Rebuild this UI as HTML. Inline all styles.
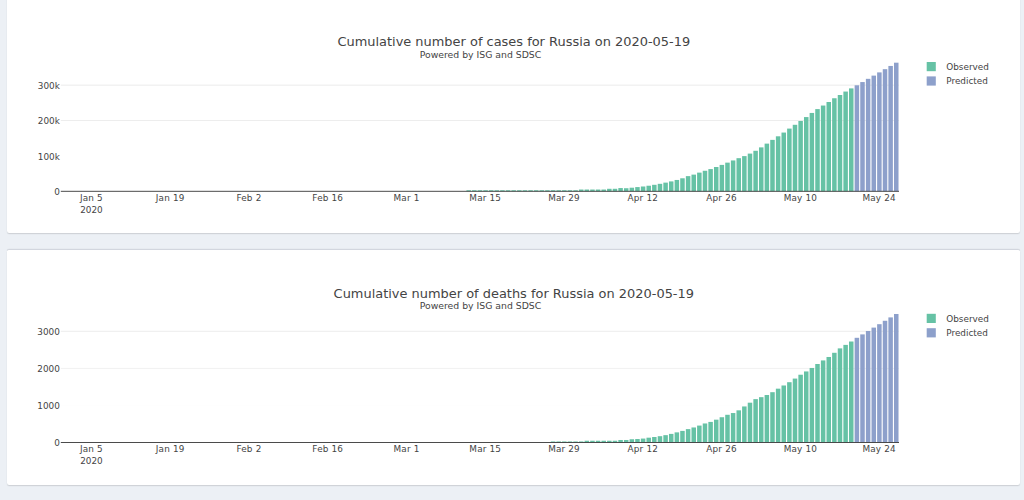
<!DOCTYPE html>
<html lang="en">
<head>
<meta charset="utf-8">
<title>Cumulative cases and deaths for Russia</title>
<style>
html,body{margin:0;padding:0;}
body{width:1024px;height:500px;overflow:hidden;background:#ecf0f5;position:relative;font-family:"DejaVu Sans", "Liberation Sans", sans-serif;}
.card{position:absolute;box-sizing:border-box;left:7.4px;width:1012.6px;height:236.1px;background:#fff;border-radius:2.2px;border-top:1.7px solid #d2d6de;box-shadow:0 0.8px 1.2px rgba(0,0,0,0.14);}
#c1{top:-3.3px;}
#c2{top:248.9px;}
svg{position:absolute;left:0;top:0;}
text{font-family:"DejaVu Sans", "Liberation Sans", sans-serif;fill:#444;}
.tk{font-size:8.85px;}
.xl{letter-spacing:0.17px;}
.tt{font-size:12.95px;}
.st{font-size:9.3px;}
</style>
</head>
<body>
<div class="card" id="c1"></div>
<div class="card" id="c2"></div>
<svg width="1024" height="500" viewBox="0 0 1024 500">
<g id="chart-cases">
<rect x="60.8" y="155.53" width="838.2" height="0.74" fill="#fefefe"/>
<rect x="60.8" y="120.13" width="838.2" height="0.74" fill="#e7e7e7"/>
<rect x="60.8" y="84.73" width="838.2" height="0.74" fill="#e3e3e3"/>
<rect x="466.44" y="190.26" width="4.5" height="1.04" fill="#66c2a5"/>
<rect x="472.06" y="190.26" width="4.5" height="1.04" fill="#66c2a5"/>
<rect x="477.69" y="190.26" width="4.5" height="1.04" fill="#66c2a5"/>
<rect x="483.31" y="190.26" width="4.5" height="1.04" fill="#66c2a5"/>
<rect x="488.94" y="190.26" width="4.5" height="1.04" fill="#66c2a5"/>
<rect x="494.57" y="190.26" width="4.5" height="1.04" fill="#66c2a5"/>
<rect x="500.19" y="190.26" width="4.5" height="1.04" fill="#66c2a5"/>
<rect x="505.82" y="190.26" width="4.5" height="1.04" fill="#66c2a5"/>
<rect x="511.44" y="190.26" width="4.5" height="1.04" fill="#66c2a5"/>
<rect x="517.07" y="190.26" width="4.5" height="1.04" fill="#66c2a5"/>
<rect x="522.70" y="190.26" width="4.5" height="1.04" fill="#66c2a5"/>
<rect x="528.32" y="190.26" width="4.5" height="1.04" fill="#66c2a5"/>
<rect x="533.95" y="190.26" width="4.5" height="1.04" fill="#66c2a5"/>
<rect x="539.57" y="190.26" width="4.5" height="1.04" fill="#66c2a5"/>
<rect x="545.20" y="190.26" width="4.5" height="1.04" fill="#66c2a5"/>
<rect x="550.83" y="190.26" width="4.5" height="1.04" fill="#66c2a5"/>
<rect x="556.45" y="190.26" width="4.5" height="1.04" fill="#66c2a5"/>
<rect x="562.08" y="190.26" width="4.5" height="1.04" fill="#66c2a5"/>
<rect x="567.70" y="190.26" width="4.5" height="1.04" fill="#66c2a5"/>
<rect x="573.33" y="190.26" width="4.5" height="1.04" fill="#66c2a5"/>
<rect x="578.96" y="189.53" width="4.5" height="1.77" fill="#66c2a5"/>
<rect x="584.58" y="189.53" width="4.5" height="1.77" fill="#66c2a5"/>
<rect x="590.21" y="189.53" width="4.5" height="1.77" fill="#66c2a5"/>
<rect x="595.83" y="189.53" width="4.5" height="1.77" fill="#66c2a5"/>
<rect x="601.46" y="189.53" width="4.5" height="1.77" fill="#66c2a5"/>
<rect x="607.09" y="188.79" width="4.5" height="2.51" fill="#66c2a5"/>
<rect x="612.71" y="188.79" width="4.5" height="2.51" fill="#66c2a5"/>
<rect x="618.34" y="188.05" width="4.5" height="3.25" fill="#66c2a5"/>
<rect x="623.96" y="188.23" width="4.5" height="3.07" fill="#66c2a5"/>
<rect x="629.59" y="187.71" width="4.5" height="3.59" fill="#66c2a5"/>
<rect x="635.22" y="187.08" width="4.5" height="4.22" fill="#66c2a5"/>
<rect x="640.84" y="186.49" width="4.5" height="4.81" fill="#66c2a5"/>
<rect x="646.47" y="185.72" width="4.5" height="5.58" fill="#66c2a5"/>
<rect x="652.09" y="184.81" width="4.5" height="6.49" fill="#66c2a5"/>
<rect x="657.72" y="183.83" width="4.5" height="7.47" fill="#66c2a5"/>
<rect x="663.35" y="182.63" width="4.5" height="8.67" fill="#66c2a5"/>
<rect x="668.97" y="181.41" width="4.5" height="9.89" fill="#66c2a5"/>
<rect x="674.60" y="179.97" width="4.5" height="11.33" fill="#66c2a5"/>
<rect x="680.22" y="178.28" width="4.5" height="13.02" fill="#66c2a5"/>
<rect x="685.85" y="176.13" width="4.5" height="15.17" fill="#66c2a5"/>
<rect x="691.48" y="174.62" width="4.5" height="16.68" fill="#66c2a5"/>
<rect x="697.10" y="172.62" width="4.5" height="18.68" fill="#66c2a5"/>
<rect x="702.73" y="170.77" width="4.5" height="20.53" fill="#66c2a5"/>
<rect x="708.35" y="169.08" width="4.5" height="22.22" fill="#66c2a5"/>
<rect x="713.98" y="167.01" width="4.5" height="24.29" fill="#66c2a5"/>
<rect x="719.61" y="164.90" width="4.5" height="26.40" fill="#66c2a5"/>
<rect x="725.23" y="162.64" width="4.5" height="28.66" fill="#66c2a5"/>
<rect x="730.86" y="160.45" width="4.5" height="30.85" fill="#66c2a5"/>
<rect x="736.48" y="158.18" width="4.5" height="33.12" fill="#66c2a5"/>
<rect x="742.11" y="156.11" width="4.5" height="35.19" fill="#66c2a5"/>
<rect x="747.74" y="153.60" width="4.5" height="37.70" fill="#66c2a5"/>
<rect x="753.36" y="150.79" width="4.5" height="40.51" fill="#66c2a5"/>
<rect x="758.99" y="147.38" width="4.5" height="43.92" fill="#66c2a5"/>
<rect x="764.61" y="143.62" width="4.5" height="47.68" fill="#66c2a5"/>
<rect x="770.24" y="139.88" width="4.5" height="51.42" fill="#66c2a5"/>
<rect x="775.87" y="136.30" width="4.5" height="55.00" fill="#66c2a5"/>
<rect x="781.49" y="132.56" width="4.5" height="58.74" fill="#66c2a5"/>
<rect x="787.12" y="128.59" width="4.5" height="62.71" fill="#66c2a5"/>
<rect x="792.74" y="124.80" width="4.5" height="66.50" fill="#66c2a5"/>
<rect x="798.37" y="120.97" width="4.5" height="70.33" fill="#66c2a5"/>
<rect x="804.00" y="117.07" width="4.5" height="74.23" fill="#66c2a5"/>
<rect x="809.62" y="112.94" width="4.5" height="78.36" fill="#66c2a5"/>
<rect x="815.25" y="109.09" width="4.5" height="82.21" fill="#66c2a5"/>
<rect x="820.87" y="105.54" width="4.5" height="85.76" fill="#66c2a5"/>
<rect x="826.50" y="102.01" width="4.5" height="89.29" fill="#66c2a5"/>
<rect x="832.12" y="98.25" width="4.5" height="93.05" fill="#66c2a5"/>
<rect x="837.75" y="95.00" width="4.5" height="96.30" fill="#66c2a5"/>
<rect x="843.38" y="91.56" width="4.5" height="99.74" fill="#66c2a5"/>
<rect x="849.00" y="88.40" width="4.5" height="102.90" fill="#66c2a5"/>
<rect x="854.63" y="85.28" width="4.5" height="106.02" fill="#8da0cb"/>
<rect x="860.25" y="82.06" width="4.5" height="109.24" fill="#8da0cb"/>
<rect x="865.88" y="78.83" width="4.5" height="112.47" fill="#8da0cb"/>
<rect x="871.51" y="75.61" width="4.5" height="115.69" fill="#8da0cb"/>
<rect x="877.13" y="72.39" width="4.5" height="118.91" fill="#8da0cb"/>
<rect x="882.76" y="69.17" width="4.5" height="122.13" fill="#8da0cb"/>
<rect x="888.38" y="65.95" width="4.5" height="125.35" fill="#8da0cb"/>
<rect x="894.01" y="62.69" width="4.5" height="128.61" fill="#8da0cb"/>
<rect x="60.8" y="190.82" width="838.2" height="0.96" fill="#444444"/>
<text x="59.8" y="194.90" text-anchor="end" class="tk">0</text>
<text x="59.8" y="159.50" text-anchor="end" class="tk">100k</text>
<text x="59.8" y="124.10" text-anchor="end" class="tk">200k</text>
<text x="59.8" y="88.70" text-anchor="end" class="tk">300k</text>
<text x="91.44" y="201.10" text-anchor="middle" class="tk xl">Jan 5</text>
<text x="170.21" y="201.10" text-anchor="middle" class="tk xl">Jan 19</text>
<text x="248.97" y="201.10" text-anchor="middle" class="tk xl">Feb 2</text>
<text x="327.74" y="201.10" text-anchor="middle" class="tk xl">Feb 16</text>
<text x="406.50" y="201.10" text-anchor="middle" class="tk xl">Mar 1</text>
<text x="485.26" y="201.10" text-anchor="middle" class="tk xl">Mar 15</text>
<text x="564.03" y="201.10" text-anchor="middle" class="tk xl">Mar 29</text>
<text x="642.79" y="201.10" text-anchor="middle" class="tk xl">Apr 12</text>
<text x="721.56" y="201.10" text-anchor="middle" class="tk xl">Apr 26</text>
<text x="800.32" y="201.10" text-anchor="middle" class="tk xl">May 10</text>
<text x="879.08" y="201.10" text-anchor="middle" class="tk xl">May 24</text>
<text x="91.44" y="212.60" text-anchor="middle" class="tk">2020</text>
<text x="513.8" y="46.00" text-anchor="middle" class="tt">Cumulative number of cases for Russia on 2020-05-19</text>
<text x="480.5" y="57.60" text-anchor="middle" class="st">Powered by ISG and SDSC</text>
<rect x="926.7" y="62.00" width="9.1" height="9.2" fill="#66c2a5"/>
<rect x="926.7" y="76.40" width="9.1" height="9.2" fill="#8da0cb"/>
<text x="946.3" y="69.70" class="tk">Observed</text>
<text x="946.3" y="84.10" class="tk">Predicted</text>
</g>
<g id="chart-deaths">
<rect x="60.8" y="405.03" width="838.2" height="0.74" fill="#fefefe"/>
<rect x="60.8" y="367.93" width="838.2" height="0.74" fill="#ececec"/>
<rect x="60.8" y="330.83" width="838.2" height="0.74" fill="#e5e5e5"/>
<rect x="550.83" y="441.46" width="4.5" height="1.04" fill="#66c2a5"/>
<rect x="556.45" y="441.46" width="4.5" height="1.04" fill="#66c2a5"/>
<rect x="562.08" y="441.46" width="4.5" height="1.04" fill="#66c2a5"/>
<rect x="567.70" y="441.46" width="4.5" height="1.04" fill="#66c2a5"/>
<rect x="573.33" y="441.46" width="4.5" height="1.04" fill="#66c2a5"/>
<rect x="578.96" y="441.46" width="4.5" height="1.04" fill="#66c2a5"/>
<rect x="584.58" y="440.73" width="4.5" height="1.77" fill="#66c2a5"/>
<rect x="590.21" y="440.73" width="4.5" height="1.77" fill="#66c2a5"/>
<rect x="595.83" y="440.73" width="4.5" height="1.77" fill="#66c2a5"/>
<rect x="601.46" y="440.73" width="4.5" height="1.77" fill="#66c2a5"/>
<rect x="607.09" y="440.73" width="4.5" height="1.77" fill="#66c2a5"/>
<rect x="612.71" y="440.73" width="4.5" height="1.77" fill="#66c2a5"/>
<rect x="618.34" y="439.99" width="4.5" height="2.51" fill="#66c2a5"/>
<rect x="623.96" y="439.99" width="4.5" height="2.51" fill="#66c2a5"/>
<rect x="629.59" y="439.25" width="4.5" height="3.25" fill="#66c2a5"/>
<rect x="635.22" y="439.01" width="4.5" height="3.49" fill="#66c2a5"/>
<rect x="640.84" y="438.57" width="4.5" height="3.93" fill="#66c2a5"/>
<rect x="646.47" y="437.68" width="4.5" height="4.82" fill="#66c2a5"/>
<rect x="652.09" y="437.01" width="4.5" height="5.49" fill="#66c2a5"/>
<rect x="657.72" y="436.19" width="4.5" height="6.31" fill="#66c2a5"/>
<rect x="663.35" y="435.15" width="4.5" height="7.35" fill="#66c2a5"/>
<rect x="668.97" y="433.89" width="4.5" height="8.61" fill="#66c2a5"/>
<rect x="674.60" y="432.37" width="4.5" height="10.13" fill="#66c2a5"/>
<rect x="680.22" y="430.89" width="4.5" height="11.61" fill="#66c2a5"/>
<rect x="685.85" y="429.11" width="4.5" height="13.39" fill="#66c2a5"/>
<rect x="691.48" y="427.47" width="4.5" height="15.03" fill="#66c2a5"/>
<rect x="697.10" y="425.58" width="4.5" height="16.92" fill="#66c2a5"/>
<rect x="702.73" y="423.47" width="4.5" height="19.03" fill="#66c2a5"/>
<rect x="708.35" y="421.91" width="4.5" height="20.59" fill="#66c2a5"/>
<rect x="713.98" y="419.68" width="4.5" height="22.82" fill="#66c2a5"/>
<rect x="719.61" y="417.23" width="4.5" height="25.27" fill="#66c2a5"/>
<rect x="725.23" y="414.79" width="4.5" height="27.71" fill="#66c2a5"/>
<rect x="730.86" y="413.04" width="4.5" height="29.46" fill="#66c2a5"/>
<rect x="736.48" y="410.33" width="4.5" height="32.17" fill="#66c2a5"/>
<rect x="742.11" y="406.44" width="4.5" height="36.06" fill="#66c2a5"/>
<rect x="747.74" y="402.69" width="4.5" height="39.81" fill="#66c2a5"/>
<rect x="753.36" y="399.13" width="4.5" height="43.37" fill="#66c2a5"/>
<rect x="758.99" y="397.16" width="4.5" height="45.34" fill="#66c2a5"/>
<rect x="764.61" y="395.01" width="4.5" height="47.49" fill="#66c2a5"/>
<rect x="770.24" y="392.19" width="4.5" height="50.31" fill="#66c2a5"/>
<rect x="775.87" y="388.67" width="4.5" height="53.83" fill="#66c2a5"/>
<rect x="781.49" y="385.48" width="4.5" height="57.02" fill="#66c2a5"/>
<rect x="787.12" y="382.21" width="4.5" height="60.29" fill="#66c2a5"/>
<rect x="792.74" y="378.58" width="4.5" height="63.92" fill="#66c2a5"/>
<rect x="798.37" y="374.72" width="4.5" height="67.78" fill="#66c2a5"/>
<rect x="804.00" y="371.45" width="4.5" height="71.05" fill="#66c2a5"/>
<rect x="809.62" y="367.97" width="4.5" height="74.53" fill="#66c2a5"/>
<rect x="815.25" y="364.00" width="4.5" height="78.50" fill="#66c2a5"/>
<rect x="820.87" y="360.43" width="4.5" height="82.07" fill="#66c2a5"/>
<rect x="826.50" y="356.98" width="4.5" height="85.52" fill="#66c2a5"/>
<rect x="832.12" y="352.79" width="4.5" height="89.71" fill="#66c2a5"/>
<rect x="837.75" y="348.38" width="4.5" height="94.12" fill="#66c2a5"/>
<rect x="843.38" y="344.89" width="4.5" height="97.61" fill="#66c2a5"/>
<rect x="849.00" y="341.51" width="4.5" height="100.99" fill="#66c2a5"/>
<rect x="854.63" y="337.80" width="4.5" height="104.70" fill="#8da0cb"/>
<rect x="860.25" y="334.39" width="4.5" height="108.11" fill="#8da0cb"/>
<rect x="865.88" y="330.98" width="4.5" height="111.52" fill="#8da0cb"/>
<rect x="871.51" y="327.60" width="4.5" height="114.90" fill="#8da0cb"/>
<rect x="877.13" y="324.19" width="4.5" height="118.31" fill="#8da0cb"/>
<rect x="882.76" y="320.77" width="4.5" height="121.73" fill="#8da0cb"/>
<rect x="888.38" y="317.40" width="4.5" height="125.10" fill="#8da0cb"/>
<rect x="894.01" y="313.99" width="4.5" height="128.51" fill="#8da0cb"/>
<rect x="60.8" y="442.02" width="838.2" height="0.96" fill="#444444"/>
<text x="59.8" y="446.10" text-anchor="end" class="tk">0</text>
<text x="59.8" y="409.00" text-anchor="end" class="tk">1000</text>
<text x="59.8" y="371.90" text-anchor="end" class="tk">2000</text>
<text x="59.8" y="334.80" text-anchor="end" class="tk">3000</text>
<text x="91.44" y="452.30" text-anchor="middle" class="tk xl">Jan 5</text>
<text x="170.21" y="452.30" text-anchor="middle" class="tk xl">Jan 19</text>
<text x="248.97" y="452.30" text-anchor="middle" class="tk xl">Feb 2</text>
<text x="327.74" y="452.30" text-anchor="middle" class="tk xl">Feb 16</text>
<text x="406.50" y="452.30" text-anchor="middle" class="tk xl">Mar 1</text>
<text x="485.26" y="452.30" text-anchor="middle" class="tk xl">Mar 15</text>
<text x="564.03" y="452.30" text-anchor="middle" class="tk xl">Mar 29</text>
<text x="642.79" y="452.30" text-anchor="middle" class="tk xl">Apr 12</text>
<text x="721.56" y="452.30" text-anchor="middle" class="tk xl">Apr 26</text>
<text x="800.32" y="452.30" text-anchor="middle" class="tk xl">May 10</text>
<text x="879.08" y="452.30" text-anchor="middle" class="tk xl">May 24</text>
<text x="91.44" y="463.80" text-anchor="middle" class="tk">2020</text>
<text x="513.8" y="297.80" text-anchor="middle" class="tt">Cumulative number of deaths for Russia on 2020-05-19</text>
<text x="480.5" y="309.40" text-anchor="middle" class="st">Powered by ISG and SDSC</text>
<rect x="926.7" y="313.80" width="9.1" height="9.2" fill="#66c2a5"/>
<rect x="926.7" y="328.20" width="9.1" height="9.2" fill="#8da0cb"/>
<text x="946.3" y="321.50" class="tk">Observed</text>
<text x="946.3" y="335.90" class="tk">Predicted</text>
</g>
</svg>
</body>
</html>
